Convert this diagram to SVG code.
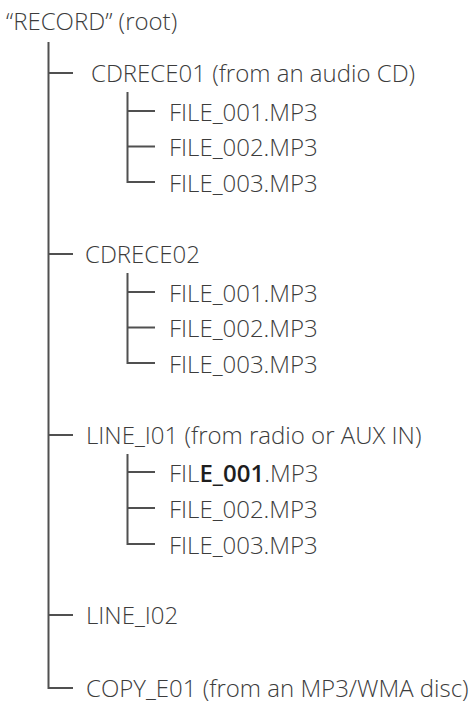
<svg xmlns="http://www.w3.org/2000/svg" width="476" height="704" viewBox="0 0 476 704">
<style>
text{font-family:"Open Sans","Noto Sans","Liberation Sans",sans-serif;font-size:24px;font-weight:300;fill:#3c3c3c}
.b{font-weight:600;fill:#1e1e1e}
.ln{fill:none;stroke:#505050;stroke-width:2}
</style>
<rect width="476" height="704" fill="#fff"/>
<g id="connectors">
<path class="ln" d="M48.5,42 V688 H73"/>
<path class="ln" d="M48.5,73 H73"/>
<path class="ln" d="M48.5,254 H73"/>
<path class="ln" d="M48.5,435 H73"/>
<path class="ln" d="M48.5,615 H73"/>
<path class="ln" d="M127.5,92 V182 H155 M127.5,111 H155 M127.5,146.5 H155"/>
<path class="ln" d="M127.5,273 V363 H155 M127.5,292 H155 M127.5,327.5 H155"/>
<path class="ln" d="M127.5,454 V544 H155 M127.5,472 H155 M127.5,508 H155"/>
</g>
<g id="root"><text x="6" y="30">“RECORD” (root)</text></g>
<g id="cdrece01"><text x="91" y="82">CDRECE01 (from an audio CD)</text></g>
<g id="cdrece01-f1"><text x="169" y="120.5">FILE_001.MP3</text></g>
<g id="cdrece01-f2"><text x="169" y="156">FILE_002.MP3</text></g>
<g id="cdrece01-f3"><text x="169" y="191.5">FILE_003.MP3</text></g>
<g id="cdrece02"><text x="85" y="263">CDRECE02</text></g>
<g id="cdrece02-f1"><text x="169" y="301.5">FILE_001.MP3</text></g>
<g id="cdrece02-f2"><text x="169" y="337">FILE_002.MP3</text></g>
<g id="cdrece02-f3"><text x="169" y="372.5">FILE_003.MP3</text></g>
<g id="line_i01"><text x="86" y="444">LINE_I01 (from radio or AUX IN)</text></g>
<g id="line_i01-f1"><text x="169" y="481.5">FIL<tspan class="b">E_001</tspan>.MP3</text></g>
<g id="line_i01-f2"><text x="169" y="517.5">FILE_002.MP3</text></g>
<g id="line_i01-f3"><text x="169" y="553.5">FILE_003.MP3</text></g>
<g id="line_i02"><text x="86" y="624">LINE_I02</text></g>
<g id="copy_e01"><text x="86" y="697">COPY_E01 (from an MP3/WMA disc)</text></g>
</svg>
